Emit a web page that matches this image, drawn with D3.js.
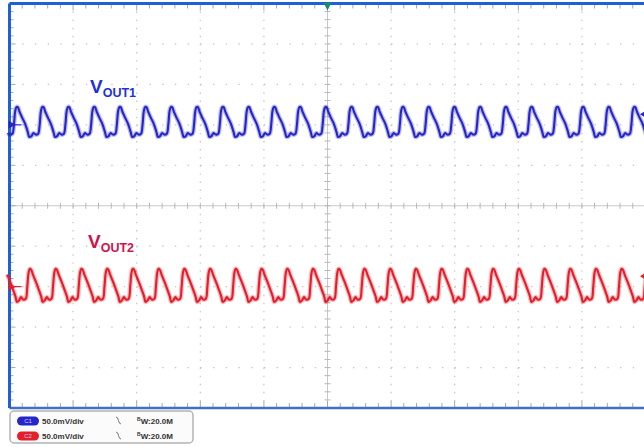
<!DOCTYPE html>
<html>
<head>
    <title>Scope capture</title>
    <script src="https://d3js.org/d3.v7.min.js"></script>
    <style>
        body { margin: 0; background: #fff; }
        svg { display: block; font-family: "Liberation Sans", Arial, sans-serif; }
    </style>
</head>
<body>
<div id="scope"></div>
<script type="text/javascript">
    // channel settings (divisions, mV)
    const mvPerDiv = 50;
    const channels = ['C1', 'C2'];
    const channelOffsets = [2, -2];          // ground marker position in div
    const channelColors = ['#2626c8', '#e41e2a'];
    const labelColors = ['#1f2fe0', '#d3104e'];
    const labelNames = ['OUT1', 'OUT2'];

    // one ripple cycle (phase 0 = peak)
    const cyclePhase = [0, 0.05, 0.12, 0.22, 0.34, 0.44, 0.50, 0.58, 0.66, 0.74, 0.84, 0.90, 0.95, 1.0];
    const ch1Cycle = [22, 22, 16, 9, 1, -9, -15, -14, -10, -12, -11, 0, 17, 22];
    const ch2Cycle = [22, 21, 15, 7, -3, -12, -19, -17, -13, -16, -15, 0, 17, 22];

    // timing in divisions
    const cycleDiv = 0.4045;
    const firstPeak = [-4.89, -4.68];

    // legend rows
    const legendScale = ['50.0mV/div', '50.0mV/div'];
    const legendBw = ['20.0M', '20.0M'];

    const width = 644;
    const height = 447;

    const svg = d3.select('#scope').append('svg')
        .attr('width', width).attr('height', height);

    const x = d3.scaleLinear().domain([-5, 5]).range([9.5, 645.5]);
    const y = d3.scaleLinear().domain([-5, 5]).range([408, 3.5]);

    const grid = svg.append('g');
    const divs = d3.range(-5, 6);
    const minor = d3.range(-25, 26).map(d => d / 5);

    // dotted graticule
    grid.selectAll('line.vx').data(divs.filter(d => d > -5 && d < 5 && d !== 0)).enter()
        .append('line')
        .attr('x1', d => x(d)).attr('x2', d => x(d))
        .attr('y1', y(5)).attr('y2', y(-5))
        .attr('stroke', '#c4c4c4').attr('stroke-width', 1.2)
        .attr('stroke-dasharray', '1.4,6.69');
    grid.selectAll('line.hy').data(divs.filter(d => d > -5 && d < 5 && d !== 0)).enter()
        .append('line')
        .attr('x1', x(-5)).attr('x2', x(5))
        .attr('y1', d => y(d)).attr('y2', d => y(d))
        .attr('stroke', '#c4c4c4').attr('stroke-width', 1.2)
        .attr('stroke-dasharray', '1.4,11.32');

    // centre axes with minor ticks
    grid.append('line').attr('x1', x(0)).attr('x2', x(0)).attr('y1', y(5)).attr('y2', y(-5))
        .attr('stroke', '#c8c8c8').attr('stroke-width', 1);
    grid.append('line').attr('x1', x(-5)).attr('x2', x(5)).attr('y1', y(0)).attr('y2', y(0))
        .attr('stroke', '#c8c8c8').attr('stroke-width', 1);
    grid.selectAll('line.tx').data(minor).enter().append('line')
        .attr('x1', d => x(d)).attr('x2', d => x(d))
        .attr('y1', y(0) - 3).attr('y2', y(0) + 3)
        .attr('stroke', '#b8b8b8');
    grid.selectAll('line.ty').data(minor).enter().append('line')
        .attr('x1', x(0) - 3).attr('x2', x(0) + 3)
        .attr('y1', d => y(d)).attr('y2', d => y(d))
        .attr('stroke', '#b8b8b8');

    // border ticks
    grid.selectAll('line.tt').data(minor).enter().append('line')
        .attr('x1', d => x(d)).attr('x2', d => x(d))
        .attr('y1', y(5)).attr('y2', d => y(5) + (Number.isInteger(d) ? 7 : 5))
        .attr('stroke', '#a8a8a8');
    grid.selectAll('line.tb').data(minor).enter().append('line')
        .attr('x1', d => x(d)).attr('x2', d => x(d))
        .attr('y1', y(-5)).attr('y2', d => y(-5) - (Number.isInteger(d) ? 7 : 5))
        .attr('stroke', '#a8a8a8');
    grid.selectAll('line.tl').data(minor).enter().append('line')
        .attr('x1', x(-5)).attr('x2', d => x(-5) + (Number.isInteger(d) ? 6 : 4))
        .attr('y1', d => y(d)).attr('y2', d => y(d))
        .attr('stroke', '#a8a8a8');

    // frame
    svg.append('line').attr('x1', x(-5)).attr('x2', x(5)).attr('y1', y(5)).attr('y2', y(5))
        .attr('stroke', '#1f5fd8').attr('stroke-width', 3);
    svg.append('line').attr('x1', x(-5)).attr('x2', x(5)).attr('y1', y(-5)).attr('y2', y(-5))
        .attr('stroke', '#3f6fc8').attr('stroke-width', 2.5);
    svg.append('line').attr('x1', x(-5)).attr('x2', x(-5)).attr('y1', y(5)).attr('y2', y(-5))
        .attr('stroke', '#1f5fd8').attr('stroke-width', 3);

    // build traces by repeating the measured cycle
    function trace(cycle, start) {
        const pts = [];
        for (let c = start - cycleDiv; c < 5 + cycleDiv; c += cycleDiv) {
            cyclePhase.slice(0, -1).forEach((p, i) => pts.push([c + p * cycleDiv, cycle[i]]));
        }
        return pts.filter(d => d[0] >= -5.05 && d[0] <= 5.05);
    }

    const cycles = [ch1Cycle, ch2Cycle];
    channels.forEach((ch, i) => {
        const pts = trace(cycles[i], firstPeak[i]);
        const line = d3.line()
            .x(d => x(d[0]))
            .y(d => y(channelOffsets[i] + d[1] / mvPerDiv))
            .curve(d3.curveCatmullRom.alpha(0.5));
        svg.append('path').attr('d', line(pts))
            .attr('fill', 'none').attr('stroke', channelColors[i])
            .attr('stroke-opacity', 0.3).attr('stroke-width', 4.6);
        svg.append('path').attr('d', line(pts))
            .attr('fill', 'none').attr('stroke', channelColors[i])
            .attr('stroke-width', 2.1);

        // ground marker on the left
        const gy = y(channelOffsets[i]);
        svg.append('path')
            .attr('d', `M${x(-5) - 1},${gy - 4} L${x(-5) + 6},${gy} L${x(-5) - 1},${gy + 4} Z`)
            .attr('fill', channelColors[i]);
        svg.append('line').attr('x1', x(-5)).attr('x2', x(-5) + 12)
            .attr('y1', gy).attr('y2', gy)
            .attr('stroke', channelColors[i]).attr('stroke-width', 1.2);

        // small marker at the right edge
        svg.append('path')
            .attr('d', `M${width},${gy - 13} l-4,2.5 l4,2.5 Z`)
            .attr('fill', channelColors[i]);

        // label
        const lbl = svg.append('text')
            .attr('x', i === 0 ? 90 : 88).attr('y', i === 0 ? 93 : 248)
            .attr('fill', labelColors[i]).attr('font-weight', 'bold');
        lbl.append('tspan').attr('font-size', 19).text('V');
        lbl.append('tspan').attr('font-size', 12.5).attr('dy', 4).text(labelNames[i]);
    });

    // trigger position marker
    svg.append('path')
        .attr('d', `M${x(0) - 4},${y(5) - 1} L${x(0) + 4},${y(5) - 1} L${x(0)},${y(5) + 7} Z`)
        .attr('fill', '#1a8a72');

    // legend box
    const lg = svg.append('g');
    lg.append('rect').attr('x', 10).attr('y', 411).attr('width', 183).attr('height', 32)
        .attr('rx', 4).attr('fill', '#fbfbfb').attr('stroke', '#b4b4b4').attr('stroke-width', 1.5);
    channels.forEach((ch, i) => {
        const ry = 421 + i * 15;
        lg.append('rect').attr('x', 17).attr('y', ry - 4.5).attr('width', 22).attr('height', 9)
            .attr('rx', 4.5).attr('fill', channelColors[i]);
        lg.append('text').attr('x', 28).attr('y', ry + 2.3).attr('text-anchor', 'middle')
            .attr('font-size', 6).attr('fill', '#c8d0ff').text(ch);
        lg.append('text').attr('x', 42).attr('y', ry + 2.7)
            .attr('font-size', 8).attr('font-weight', 'bold').attr('fill', '#333').text(legendScale[i]);
        lg.append('path').attr('d', `M116,${ry - 4} q2,0 2.5,3.5 q0.5,3.5 2.5,3.5`)
            .attr('fill', 'none').attr('stroke', '#666').attr('stroke-width', 0.9);
        const bw = lg.append('text').attr('x', 137).attr('y', ry + 2.7)
            .attr('font-weight', 'bold').attr('fill', '#333');
        bw.append('tspan').attr('font-size', 5).attr('dy', -2.5).text('B');
        bw.append('tspan').attr('font-size', 8).attr('dy', 2.5).text('W:' + legendBw[i]);
    });
</script>
</body>
</html>
